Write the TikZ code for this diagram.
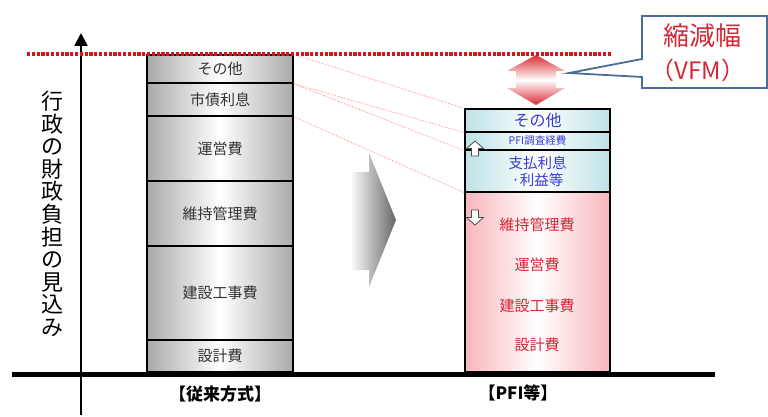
\documentclass[tikz,border=0pt]{standalone}
\usepackage{fontspec}
\setmainfont{Noto Sans CJK JP}
\usetikzlibrary{arrows.meta}
\definecolor{colgray}{RGB}{170,170,170}
\definecolor{colcyan}{RGB}{190,226,230}
\definecolor{colpink}{RGB}{248,182,188}
\definecolor{txtblue}{RGB}{55,60,205}
\definecolor{txtred}{RGB}{210,40,55}
\definecolor{vfmred}{RGB}{215,20,30}
\definecolor{callblue}{RGB}{75,110,150}
\begin{document}
\begin{tikzpicture}[x=1pt,y=-1pt,
  colbox/.style={draw=black, line width=1.3pt, inner sep=0pt, minimum width=146pt},
  lrow/.style={colbox, left color=colgray, right color=colgray, middle color=white,
    font=\fontsize{15}{17}\selectfont, text=black!80},
  rrow/.style={colbox, minimum width=145pt, left color=colcyan, right color=colcyan, middle color=white,
    text=txtblue},
  prow/.style={colbox, minimum width=145pt, left color=colpink, right color=colpink, middle color=white},
  ptext/.style={font=\fontsize{15}{17}\selectfont, text=txtred, inner sep=0pt},
  thinred/.style={draw=red!75, line width=0.5pt, densely dotted},
  hollow/.style={draw=black!70, fill=white, line width=0.8pt, line join=miter},
  lbl/.style={font=\fontsize{17}{19}\selectfont\bfseries, text=black}
]
\useasboundingbox (0,0) rectangle (768,417);

% vertical axis title
\node[align=center, inner sep=0pt, font=\fontsize{22}{22.6}\selectfont] (ytitle) at (52,214)
  {行\\政\\の\\財\\政\\負\\担\\の\\見\\込\\み};

% left column
\node[lrow, minimum height=28pt] (l1) at (220,69) {その他};
\node[lrow, minimum height=33pt] (l2) at (220,99.5) {市債利息};
\node[lrow, minimum height=65pt] (l3) at (220,148.5) {運営費};
\node[lrow, minimum height=65pt] (l4) at (220,213.5) {維持管理費};
\node[lrow, minimum height=94pt] (l5) at (220,293) {建設工事費};
\node[lrow, minimum height=32pt] (l6) at (220,356) {設計費};

% right column
\node[prow, minimum height=180pt] (r4) at (537.5,282) {};
\node[rrow, minimum height=42pt, align=center, font=\fontsize{14.5}{17}\selectfont] (r3) at (537.5,171) {支払利息\\·利益等};
\node[rrow, minimum height=18pt, font=\fontsize{10.5}{11}\selectfont] (r2) at (537.5,141) {PFI調査経費};
\node[rrow, minimum height=23pt, font=\fontsize{16}{17}\selectfont] (r1) at (537.5,120.5) {その他};

\node[ptext] (p1) at (537,225) {維持管理費};
\node[ptext] (p2) at (537,265) {運営費};
\node[ptext] (p3) at (537,306) {建設工事費};
\node[ptext] (p4) at (537,345) {設計費};

% hollow up / down arrows
\draw[hollow] (475,141) -- (483.5,148.5) -- (478.5,148.5) -- (478.5,156) -- (471.5,156) -- (471.5,148.5) -- (466.5,148.5) -- cycle;
\draw[hollow] (475,225) -- (483.5,217.5) -- (478.5,217.5) -- (478.5,210) -- (471.5,210) -- (471.5,217.5) -- (466.5,217.5) -- cycle;

% thin red connectors
\draw[thinred] (l1.north east) -- (r1.north west);
\draw[thinred] (l1.south east) -- (r1.south west);
\draw[thinred] (l1.south east) -- (r2.south west);
\draw[thinred] (l2.south east) -- (r3.south west);

% gray chevron arrow
\path[left color=white, right color=black!60] (350,172) -- (369,172) -- (369,153) -- (396,220) -- (369,287) -- (369,270) -- (350,270) -- cycle;

% axes
\coordinate (ybot) at (81,415);
\coordinate (ytop) at (81,33);
\draw[line width=2.6pt, -{Triangle[length=13pt,width=13pt]}] (ybot) -- (ytop);
\coordinate (xl) at (12,374);
\coordinate (xr) at (715,374);
\draw[line width=5pt] (xl) -- (xr);

% red dotted top line
\coordinate (dl) at (27,54);
\coordinate (dr) at (612,54);
\draw[draw=vfmred, line width=3.2pt, dash pattern=on 3.2pt off 1.6pt] (dl) -- (dr);

% red double arrow
\path[top color=vfmred!90, bottom color=vfmred!90, middle color=white]
  (536,55) -- (565,71) -- (556,71) -- (556,88) -- (565,88) -- (536,105) -- (507,88) -- (516,88) -- (516,71) -- (507,71) -- cycle;
\coordinate (dbl) at (569,73);

% callout
\draw[draw=callblue, line width=1.8pt, fill=white, line join=miter]
  (642,16) -- (767,16) -- (767,88) -- (642,88) -- (642,77) -- (dbl) -- (642,59) -- cycle;
\node[text=txtred, font=\fontsize{26}{28}\selectfont, inner sep=0pt] (vfm1) at (702,36) {縮減幅};
\node[text=txtred, font=\fontsize{24}{26}\selectfont, inner sep=0pt] (vfm2) at (698,70) {（VFM）};

% labels
\node[lbl] (lab1) at (220,394) {【従来方式】};
\node[lbl] (lab2) at (518,393) {【PFI等】};
\end{tikzpicture}
\end{document}
